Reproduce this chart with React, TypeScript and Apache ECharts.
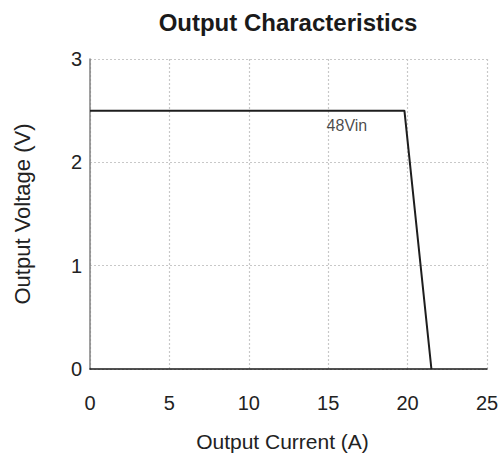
import React, { useEffect, useRef } from "react";
import * as echarts from "echarts";

const currentA = [0, 19.8, 21.5];
const voltageV = [2.5, 2.5, 0];
const seriesLabel = "48Vin";
const labelPoint = [14.9, 2.36];
const xTicks = [0, 5, 10, 15, 20, 25];
const yTicks = [0, 1, 2, 3];

const FONT = "'Liberation Sans', Arial, Helvetica, sans-serif";

export default function App() {
  const ref = useRef<HTMLDivElement>(null);
  useEffect(() => {
    const chart = echarts.init(ref.current!, null, { renderer: "svg" });
    chart.setOption({
      animation: false,
      backgroundColor: "#fff",
      title: {
        text: "Output Characteristics",
        left: 283,
        top: 5,
        textAlign: "center",
        textStyle: { fontFamily: FONT, fontSize: 24, fontWeight: "bold", color: "#1a1a1a" },
      },
      grid: { left: 90, right: 16, top: 59, bottom: 91 },
      xAxis: {
        type: "value",
        min: xTicks[0],
        max: xTicks[xTicks.length - 1],
        interval: 5,
        name: "Output Current (A)",
        nameLocation: "middle",
        nameGap: 62,
        nameTextStyle: { fontFamily: FONT, fontSize: 21, color: "#222", padding: [0, 12, 0, 0] },
        axisLine: { show: true, lineStyle: { color: "#1a1a1a", width: 1.5 } },
        axisTick: { show: false },
        axisLabel: { margin: 24, fontFamily: FONT, fontSize: 20, color: "#222" },
        splitLine: { show: true, lineStyle: { color: "#c8c8c8", type: [2, 2], width: 1.2 } },
      },
      yAxis: {
        type: "value",
        min: yTicks[0],
        max: yTicks[yTicks.length - 1],
        interval: 1,
        name: "Output Voltage (V)",
        nameLocation: "middle",
        nameGap: 57,
        nameTextStyle: { fontFamily: FONT, fontSize: 22, color: "#222" },
        axisLine: { show: true, lineStyle: { color: "#808080", width: 1.5 } },
        axisTick: { show: false },
        axisLabel: { margin: 8, fontFamily: FONT, fontSize: 20, color: "#222" },
        splitLine: { show: true, lineStyle: { color: "#c8c8c8", type: [2, 2], width: 1.2 } },
      },
      series: [
        {
          type: "line",
          data: currentA.map((x, i) => [x, voltageV[i]]),
          symbol: "none",
          lineStyle: { color: "#1e1e1e", width: 2 },
          z: 3,
        },
        {
          type: "scatter",
          data: [labelPoint],
          symbolSize: 0,
          label: {
            show: true,
            position: "right",
            distance: 0,
            formatter: seriesLabel,
            fontFamily: FONT,
            fontSize: 16,
            color: "#1a1a1a",
          },
        },
      ],
    });
    return () => chart.dispose();
  }, []);
  return <div ref={ref} style={{ width: 503, height: 460, position: "absolute", left: 0, top: 0 }} />;
}
